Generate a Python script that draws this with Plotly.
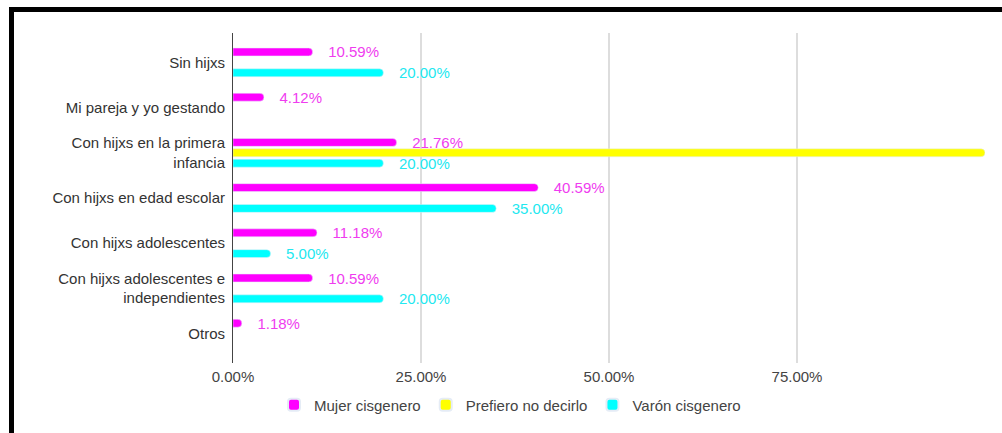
import plotly.graph_objects as go

categories = [
    "Sin hijxs",
    "Mi pareja y yo gestando",
    "Con hijxs en la primera<br>infancia",
    "Con hijxs en edad escolar",
    "Con hijxs adolescentes",
    "Con hijxs adolescentes e<br>independientes",
    "Otros",
]
mujer = [10.59, 4.12, 21.76, 40.59, 11.18, 10.59, 1.18]
prefiero = [None, None, 100.0, None, None, None, None]
varon = [20.00, None, 20.00, 35.00, 5.00, 20.00, None]

x_tickvals = [0, 25, 50, 75, 100]
x_ticktext = ["0.00%", "25.00%", "50.00%", "75.00%", ""]

C_MUJER = "#ff00ff"
C_PREF = "#ffff00"
C_VARON = "#00ffff"

pad = "\u00a0" * 3


def labels(vals):
    return [("" if v is None else f"{pad}{v:.2f}%") for v in vals]


fig = go.Figure()
fig.add_trace(go.Bar(
    y=categories, x=mujer, orientation="h", name="Mujer cisgenero",
    marker_color=C_MUJER, text=labels(mujer), textposition="outside",
    constraintext="none",
    textfont=dict(color="#ef3cef", size=15, family="Liberation Sans"),
    cliponaxis=False,
))
fig.add_trace(go.Bar(
    y=categories, x=prefiero, orientation="h", name="Prefiero no decirlo",
    marker_color=C_PREF, textposition="none",
))
fig.add_trace(go.Bar(
    y=categories, x=varon, orientation="h", name="Varón cisgenero",
    marker_color=C_VARON, text=labels(varon), textposition="outside",
    constraintext="none",
    textfont=dict(color="#22e8f0", size=15, family="Liberation Sans"),
    cliponaxis=False,
))

W, H = 1002, 433
L, R = 233, 985
T, B = 33, 363


def px(xp):
    return (xp - L) / (R - L)


def py(yp):
    return (B - yp) / (B - T)


fig.update_layout(
    width=W, height=H,
    margin=dict(l=L, r=W - R, t=T, b=H - B),
    paper_bgcolor="white", plot_bgcolor="white",
    barmode="group", bargap=0.31, bargroupgap=0.24,
    barcornerradius=4,
    font=dict(family="Liberation Sans, Arial, sans-serif", color="#444444", size=15),
    showlegend=True,
    legend=dict(
        orientation="h", x=px(510), y=py(405), xanchor="center", yanchor="middle",
        font=dict(size=15, color="#444444"), traceorder="normal",
        itemsizing="constant",
    ),
    xaxis=dict(
        range=[0, 100], tickvals=x_tickvals, ticktext=x_ticktext,
        showgrid=True, gridcolor="#dddddd", gridwidth=1.5,
        zeroline=False, showline=False, ticks="",
        ticklabelstandoff=3,
        tickfont=dict(size=15, color="#444444"),
    ),
    yaxis=dict(
        autorange=False, range=[6.65, -0.65],
        showgrid=False, zeroline=False,
        showline=True, linecolor="#444444", linewidth=1,
        ticks="", ticklabelstandoff=4,
        tickfont=dict(size=15, color="#333333"),
    ),
    shapes=[
        dict(type="line", xref="paper", yref="paper",
             x0=px(9), x1=px(1010), y0=py(9.5), y1=py(9.5),
             line=dict(color="black", width=5)),
        dict(type="line", xref="paper", yref="paper",
             x0=px(11.5), x1=px(11.5), y0=py(7), y1=py(440),
             line=dict(color="black", width=5)),
    ],
)

fig.write_html(
    "out.html",
    config={"displayModeBar": False},
    post_script="document.body.style.margin='0';document.body.style.overflow='hidden';",
)
